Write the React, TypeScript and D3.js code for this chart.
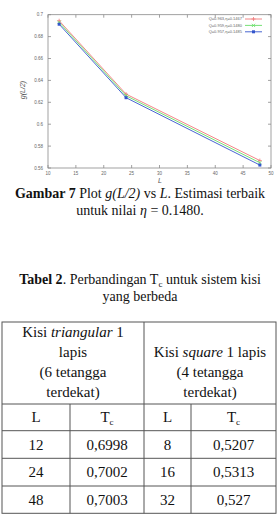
import React from "react";
import * as d3 from "d3";

const sizesL = [12, 24, 48];
const seriesRed = [0.6945, 0.6275, 0.5668];
const seriesGreen = [0.693, 0.626, 0.5648];
const seriesBlue = [0.6913, 0.6242, 0.5627];
const legendLabels = ["Q=0.963,\u03b7=0.1467", "Q=0.959,\u03b7=0.1480", "Q=0.957,\u03b7=0.1485"];
const xTicks = [10, 15, 20, 25, 30, 35, 40, 45, 50];
const yTicks = [0.56, 0.58, 0.6, 0.62, 0.64, 0.66, 0.68, 0.7];
const yTickLabels = ["0.56", "0.58", "0.6", "0.62", "0.64", "0.66", "0.68", "0.7"];

const tableHeadLeft = ["Kisi triangular 1", "lapis", "(6 tetangga", "terdekat)"];
const tableHeadRight = ["Kisi square 1 lapis", "(4 tetangga", "terdekat)"];
const triL = ["12", "24", "48"];
const triTc = ["0,6998", "0,7002", "0,7003"];
const sqL = ["8", "16", "32"];
const sqTc = ["0,5207", "0,5313", "0,527"];

const serif = "'Liberation Serif', 'Times New Roman', serif";
const sans = "'Liberation Sans', Arial, sans-serif";

export default function App() {
  const x = d3.scaleLinear().domain([10, 50]).range([48, 271]);
  const y = d3.scaleLinear().domain([0.56, 0.7]).range([168, 14.7]);
  const left = 48, right = 271, top = 14.7, bottom = 168;
  const axisColor = "#8a8a8a";
  const series = [
    { vals: seriesRed, color: "#f07878", marker: "plus" },
    { vals: seriesGreen, color: "#66dd66", marker: "cross" },
    { vals: seriesBlue, color: "#3355cc", marker: "square" },
  ];
  const line = d3.line<number>().x((_, i) => x(sizesL[i])).y((v) => y(v));

  const marker = (type: string, cx: number, cy: number, color: string, key: string) => {
    if (type === "plus")
      return (
        <path key={key} d={`M${cx - 2},${cy}H${cx + 2}M${cx},${cy - 2}V${cy + 2}`} stroke={color} strokeWidth={0.8} />
      );
    if (type === "cross")
      return (
        <path key={key} d={`M${cx - 1.6},${cy - 1.6}L${cx + 1.6},${cy + 1.6}M${cx - 1.6},${cy + 1.6}L${cx + 1.6},${cy - 1.6}`} stroke={color} strokeWidth={0.8} />
      );
    return <rect key={key} x={cx - 1.5} y={cy - 1.5} width={3} height={3} fill={color} />;
  };

  // table geometry
  const tL = 2, tR = 276, tTop = 322, tMid = 144;
  const rowsY = [404, 430.7, 458.3, 486, 513.3];
  const colX = [tL, 70, tMid, 191, tR];
  const colC = colX.slice(0, 4).map((v, i) => (v + colX[i + 1]) / 2);
  const tableColor = "#555";

  return (
    <svg width={278} height={518} style={{ position: "absolute", left: 0, top: 0, background: "#fff" }}>
      <rect width={278} height={518} fill="#fff" />
      {/* chart frame */}
      <rect x={left} y={top} width={right - left} height={bottom - top} fill="none" stroke={axisColor} strokeWidth={0.8} />
      {xTicks.map((t) => (
        <g key={"xt" + t}>
          <line x1={x(t)} x2={x(t)} y1={bottom} y2={bottom - 3} stroke={axisColor} strokeWidth={0.8} />
          <line x1={x(t)} x2={x(t)} y1={top} y2={top + 3} stroke={axisColor} strokeWidth={0.8} />
          <text x={x(t)} y={174.5} fontSize={4.5} fontFamily={sans} fill="#666" textAnchor="middle">
            {t}
          </text>
        </g>
      ))}
      {yTicks.map((t, i) => (
        <g key={"yt" + t}>
          <line x1={left} x2={left + 3} y1={y(t)} y2={y(t)} stroke={axisColor} strokeWidth={0.8} />
          <line x1={right} x2={right - 3} y1={y(t)} y2={y(t)} stroke={axisColor} strokeWidth={0.8} />
          <text x={43} y={y(t) + 1.6} fontSize={4.5} fontFamily={sans} fill="#666" textAnchor="end">
            {yTickLabels[i]}
          </text>
        </g>
      ))}
      <text x={160} y={183} fontSize={7} fontFamily={sans} fontStyle="italic" fill="#555" textAnchor="middle">
        L
      </text>
      <text transform="translate(25,90) rotate(-90)" fontSize={7} fontFamily={sans} fontStyle="italic" fill="#555" textAnchor="middle">
        g(L/2)
      </text>
      {series.map((s, si) => (
        <g key={"s" + si}>
          <path d={line(s.vals) || ""} fill="none" stroke={s.color} strokeWidth={0.9} />
          {s.vals.map((v, i) => marker(s.marker, x(sizesL[i]), y(v), s.color, `m${si}-${i}`))}
        </g>
      ))}
      {legendLabels.map((lab, i) => {
        const ly = 19 + i * 6.4;
        return (
          <g key={"lg" + i}>
            <text x={242} y={ly + 1.4} fontSize={4} fontFamily={sans} fill="#666" textAnchor="end">
              {lab}
            </text>
            <line x1={245} x2={262} y1={ly} y2={ly} stroke={series[i].color} strokeWidth={0.9} />
            {marker(series[i].marker, 253.5, ly, series[i].color, "lm" + i)}
          </g>
        );
      })}

      {/* figure caption */}
      <text x={140} y={197.5} fontSize={14} fontFamily={serif} textAnchor="middle" fill="#111">
        <tspan fontWeight="bold">Gambar 7</tspan>
        <tspan> Plot </tspan>
        <tspan fontStyle="italic">g(L/2)</tspan>
        <tspan> vs </tspan>
        <tspan fontStyle="italic">L</tspan>
        <tspan>. Estimasi terbaik</tspan>
      </text>
      <text x={140} y={215} fontSize={14} fontFamily={serif} textAnchor="middle" fill="#111">
        <tspan>untuk nilai </tspan>
        <tspan fontStyle="italic">{"\u03b7"}</tspan>
        <tspan> = 0.1480.</tspan>
      </text>

      {/* table caption */}
      <text x={140} y={283.5} fontSize={14} fontFamily={serif} textAnchor="middle" fill="#111">
        <tspan fontWeight="bold">Tabel 2</tspan>
        <tspan>. Perbandingan T</tspan>
        <tspan fontSize={9} dy={3}>c</tspan>
        <tspan dy={-3}> untuk sistem kisi</tspan>
      </text>
      <text x={140} y={301} fontSize={14} fontFamily={serif} textAnchor="middle" fill="#111">
        yang berbeda
      </text>

      {/* table */}
      <g stroke={tableColor} strokeWidth={1} fill="none">
        <rect x={tL} y={tTop} width={tR - tL} height={rowsY[4] - tTop} />
        <line x1={tMid} x2={tMid} y1={tTop} y2={rowsY[4]} />
        {rowsY.slice(0, 4).map((ry, i) => (
          <line key={"rl" + i} x1={tL} x2={tR} y1={ry} y2={ry} />
        ))}
        <line x1={colX[1]} x2={colX[1]} y1={rowsY[0]} y2={rowsY[4]} />
        <line x1={colX[3]} x2={colX[3]} y1={rowsY[0]} y2={rowsY[4]} />
      </g>
      <g fontSize={15} fontFamily={serif} fill="#111" textAnchor="middle">
        <text x={73} y={337}>
          <tspan>Kisi </tspan>
          <tspan fontStyle="italic">triangular</tspan>
          <tspan> 1</tspan>
        </text>
        {tableHeadLeft.slice(1).map((t, i) => (
          <text key={"hl" + i} x={73} y={357 + i * 20}>
            {t}
          </text>
        ))}
        <text x={210} y={357}>
          <tspan>Kisi </tspan>
          <tspan fontStyle="italic">square</tspan>
          <tspan> 1 lapis</tspan>
        </text>
        {tableHeadRight.slice(1).map((t, i) => (
          <text key={"hr" + i} x={210} y={377 + i * 20}>
            {t}
          </text>
        ))}
        {[0, 2].map((c) => (
          <text key={"hL" + c} x={colC[c]} y={(rowsY[0] + rowsY[1]) / 2 + 5}>
            L
          </text>
        ))}
        {[1, 3].map((c) => (
          <text key={"hT" + c} x={colC[c]} y={(rowsY[0] + rowsY[1]) / 2 + 5}>
            <tspan>T</tspan>
            <tspan fontSize={9} dy={3}>c</tspan>
          </text>
        ))}
        {triL.map((v, i) => {
          const cy = (rowsY[i + 1] + rowsY[i + 2]) / 2 + 5;
          return (
            <g key={"row" + i}>
              <text x={colC[0]} y={cy}>{v}</text>
              <text x={colC[1]} y={cy}>{triTc[i]}</text>
              <text x={colC[2]} y={cy}>{sqL[i]}</text>
              <text x={colC[3]} y={cy}>{sqTc[i]}</text>
            </g>
          );
        })}
      </g>
    </svg>
  );
}
